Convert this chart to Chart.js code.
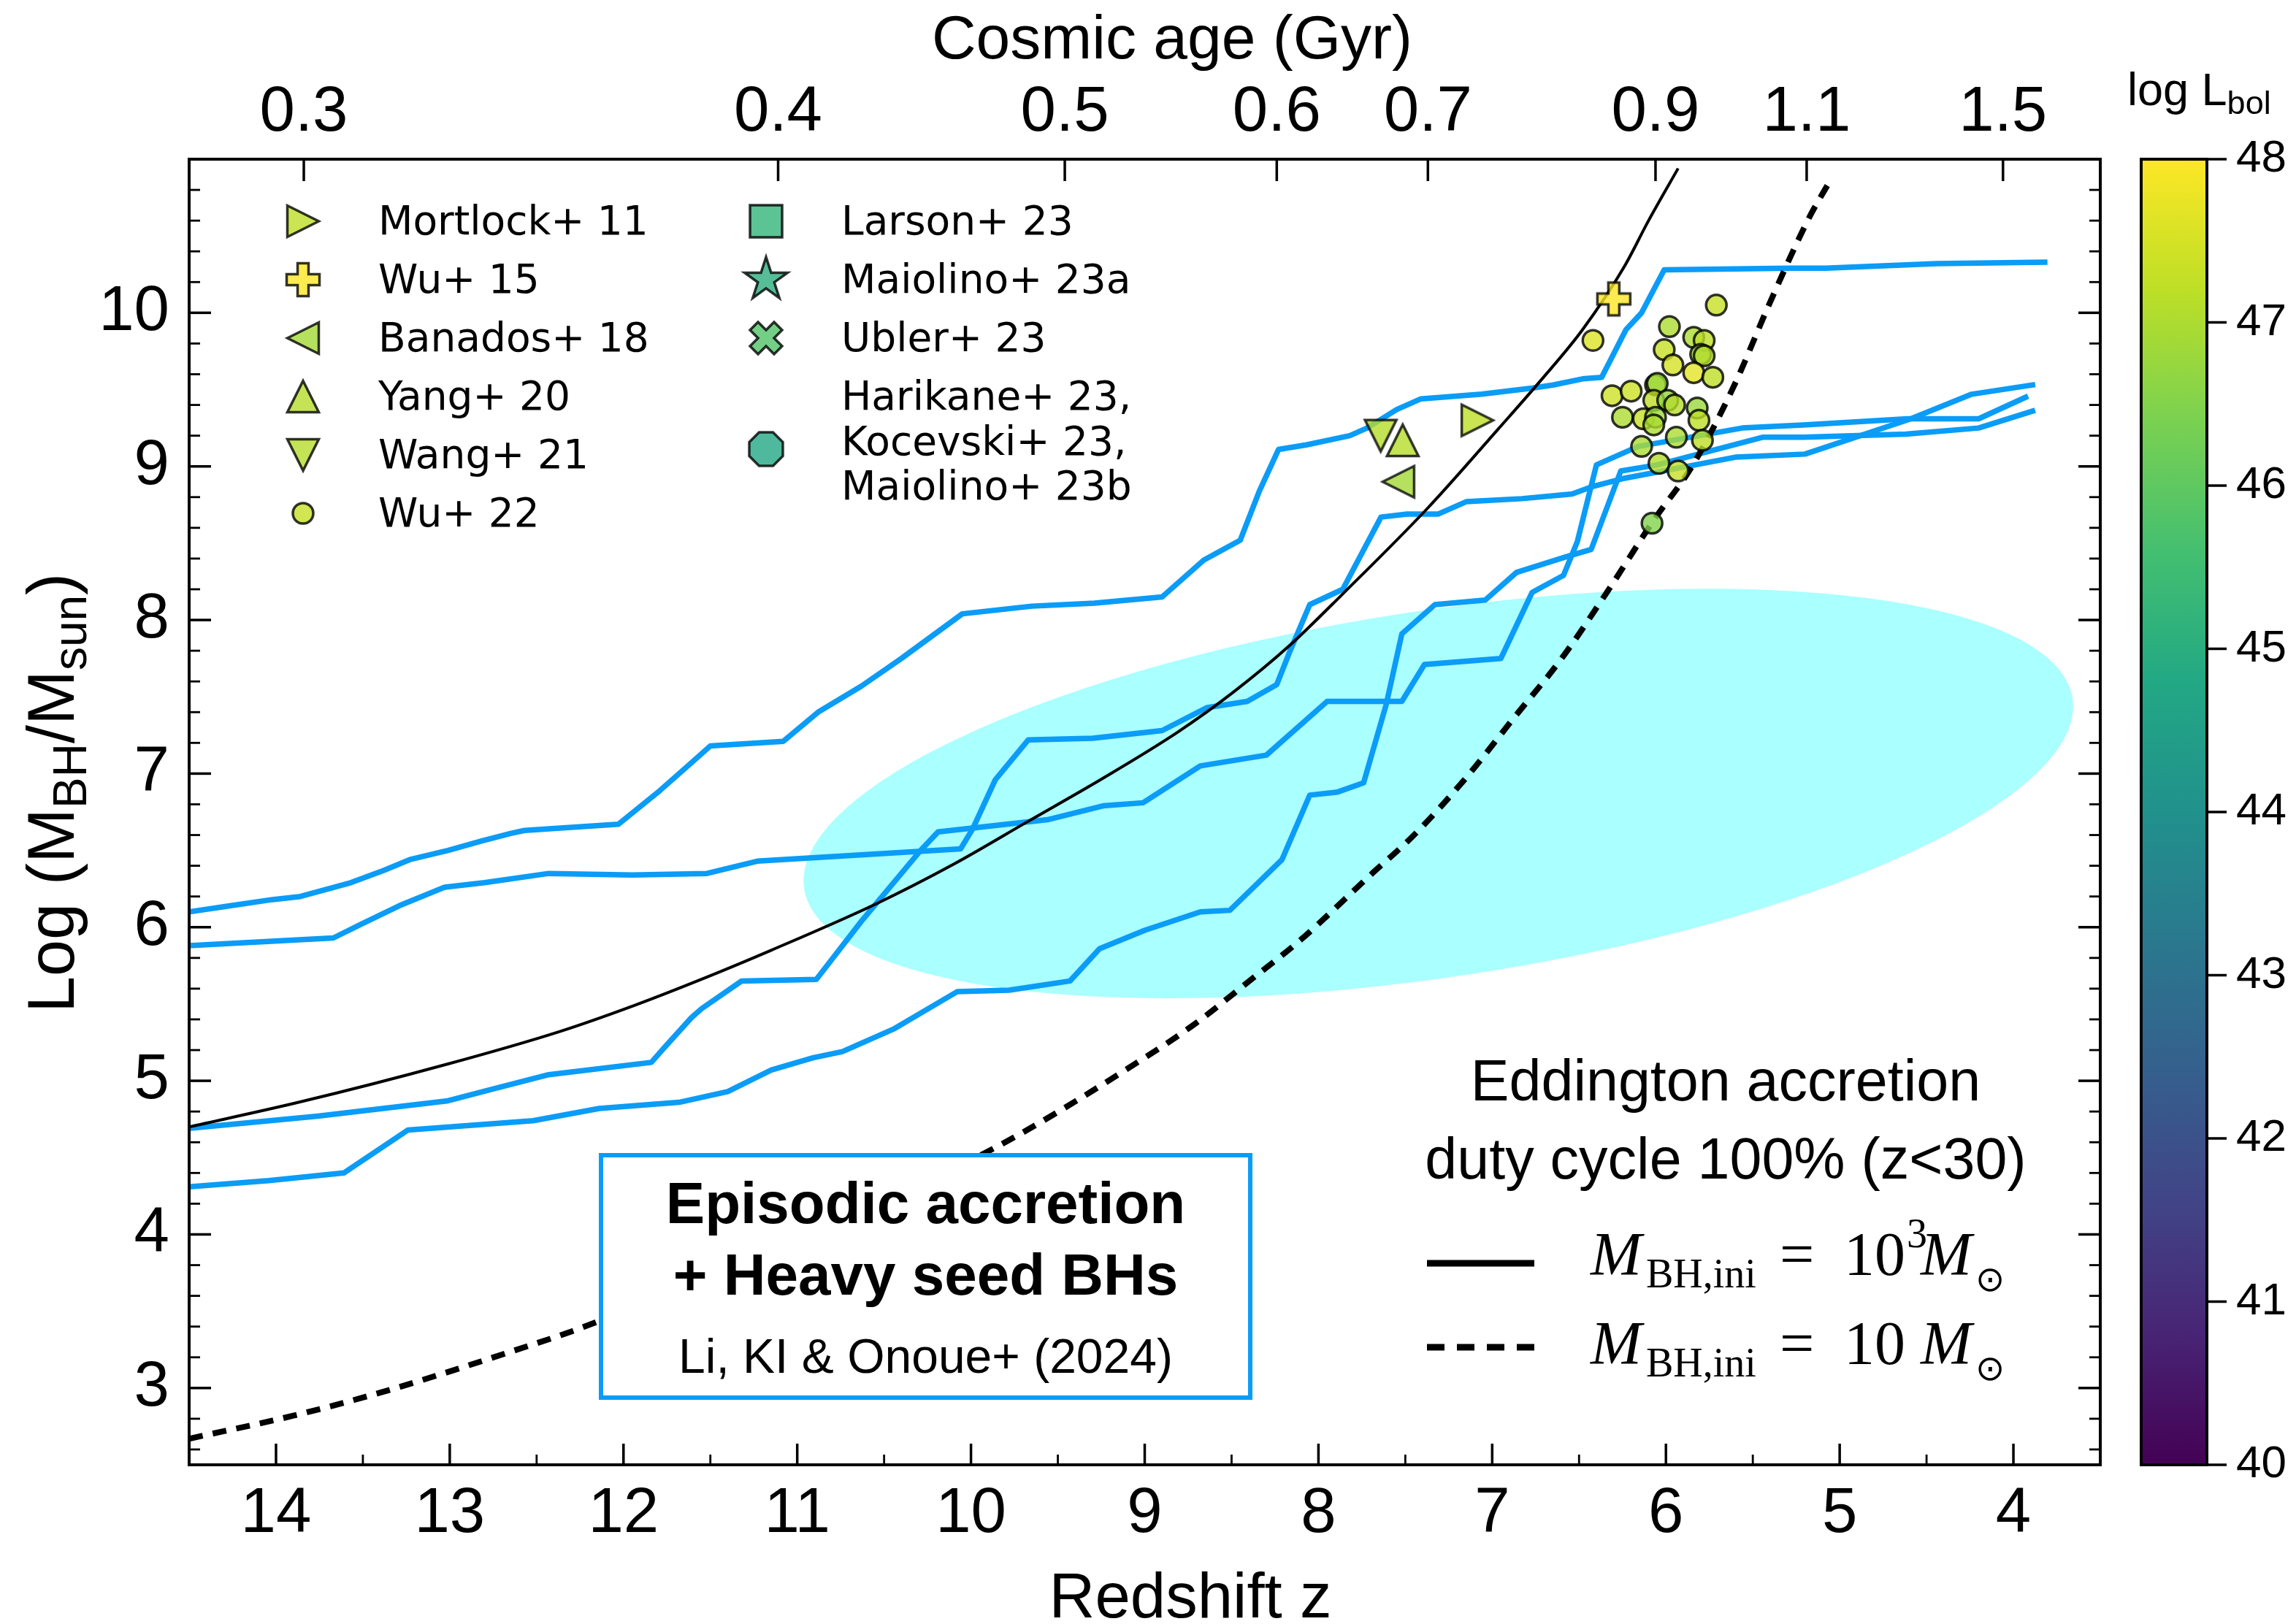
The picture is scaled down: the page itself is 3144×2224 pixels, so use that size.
<!DOCTYPE html>
<html>
<head>
<meta charset="utf-8">
<script src="https://cdn.jsdelivr.net/npm/chart.js@4.4.1/dist/chart.umd.min.js"></script>
<style>
  html, body { margin: 0; padding: 0; background: #ffffff; }
  canvas { display: block; }
</style>
</head>
<body>
<canvas id="bhChart" width="3144" height="2224"></canvas>
<script>
// ---------------- axis ticks ----------------
const zTickValues = [14, 13, 12, 11, 10, 9, 8, 7, 6, 5, 4];
const massTickValues = [3, 4, 5, 6, 7, 8, 9, 10];
const ageTickRedshifts = [13.84, 11.11, 9.46, 8.24, 7.37, 6.06, 5.19, 4.06];
const ageTickLabels = ['0.3', '0.4', '0.5', '0.6', '0.7', '0.9', '1.1', '1.5'];
const lbolTickValues = [40, 41, 42, 43, 44, 45, 46, 47, 48];

// ---------------- episodic-accretion growth tracks [z, log M] ----------------
const trackA = [[14.50,6.10],[14.26,6.14],[14.02,6.18],[13.86,6.20],[13.57,6.29],[13.38,6.37],[13.23,6.44],[13.01,6.50],[12.82,6.56],[12.65,6.61],[12.57,6.63],[12.03,6.67],[11.79,6.89],[11.61,7.07],[11.50,7.18],[11.08,7.21],[10.88,7.40],[10.63,7.57],[10.40,7.75],[10.05,8.04],[9.65,8.09],[9.29,8.11],[8.90,8.15],[8.66,8.39],[8.45,8.52],[8.34,8.84],[8.23,9.11],[8.07,9.14],[7.82,9.20],[7.72,9.25],[7.55,9.37],[7.41,9.44],[7.06,9.47],[6.77,9.51],[6.65,9.53],[6.48,9.57],[6.37,9.58],[6.23,9.89],[6.14,10.00],[6.01,10.28],[5.28,10.29],[5.08,10.29],[4.44,10.32],[3.82,10.33]];
const trackB = [[14.50,5.88],[13.67,5.93],[13.51,6.02],[13.29,6.14],[13.03,6.26],[12.80,6.29],[12.43,6.35],[11.95,6.34],[11.52,6.35],[11.23,6.43],[10.06,6.51],[9.99,6.64],[9.86,6.96],[9.67,7.22],[9.30,7.23],[8.90,7.28],[8.64,7.43],[8.41,7.47],[8.24,7.58],[8.17,7.78],[8.05,8.10],[7.86,8.20],[7.64,8.67],[7.49,8.69],[7.31,8.69],[7.15,8.77],[6.83,8.79],[6.54,8.82],[6.42,8.87],[6.25,8.92],[5.60,9.06],[5.20,9.08],[4.59,9.31],[4.24,9.47],[3.89,9.53]];
const trackC = [[14.50,4.69],[13.76,4.77],[13.01,4.87],[12.74,4.95],[12.43,5.04],[11.84,5.12],[11.77,5.21],[11.61,5.41],[11.55,5.47],[11.32,5.65],[10.89,5.66],[10.63,6.04],[10.29,6.50],[10.19,6.62],[9.56,6.70],[9.24,6.79],[9.01,6.81],[8.68,7.05],[8.30,7.12],[7.95,7.47],[7.52,7.47],[7.39,7.71],[6.95,7.75],[6.77,8.18],[6.59,8.29],[6.51,8.51],[6.40,9.01],[6.16,9.13],[5.56,9.25],[5.21,9.27],[4.61,9.31],[4.20,9.31],[3.93,9.45]];
const trackD = [[14.50,4.31],[14.04,4.35],[13.61,4.40],[13.24,4.68],[12.52,4.74],[12.14,4.82],[11.68,4.86],[11.40,4.93],[11.15,5.07],[10.91,5.15],[10.74,5.19],[10.44,5.34],[10.08,5.58],[9.78,5.59],[9.43,5.65],[9.26,5.86],[9.00,5.98],[8.68,6.10],[8.51,6.11],[8.21,6.44],[8.05,6.86],[7.89,6.88],[7.74,6.94],[7.61,7.45],[7.52,7.91],[7.33,8.10],[7.04,8.13],[6.86,8.31],[6.58,8.41],[6.43,8.46],[6.26,8.97],[6.05,9.01],[5.44,9.19],[5.21,9.19],[4.62,9.21],[4.20,9.25],[3.89,9.36]];

// ---------------- Eddington-limited growth, 100% duty cycle [z, log M] ----------------
const eddSeed1e3 = [[14.50,4.70],[13.87,4.86],[13.01,5.11],[12.37,5.32],[11.94,5.49],[11.51,5.68],[11.15,5.85],[10.55,6.15],[10.10,6.41],[9.67,6.69],[9.24,6.97],[8.81,7.27],[8.49,7.53],[8.17,7.83],[7.86,8.17],[7.37,8.73],[6.96,9.25],[6.72,9.56],[6.48,9.89],[6.24,10.30],[6.10,10.60],[5.93,10.94]];
const eddSeed10 = [[14.50,2.67],[13.90,2.82],[13.40,2.97],[12.64,3.24],[12.20,3.41],[9.92,4.53],[9.00,5.15],[8.70,5.38],[8.42,5.63],[8.10,5.92],[7.71,6.33],[7.45,6.60],[7.16,6.96],[6.87,7.37],[6.60,7.75],[6.34,8.18],[6.07,8.65],[5.85,9.00],[5.61,9.52],[5.40,10.07],[5.18,10.61],[5.05,10.87]];

// ---------------- shaded region: centre and the tips of its two semi-axes [z, log M] ----------------
const regionCentre = [7.31, 6.87];
const regionMajorTip = [3.66, 7.49];
const regionMinorTip = [7.15, 5.69];

// ---------------- observed quasars / AGN [z, log M, log Lbol] ----------------
const mortlock11 = [[7.085, 9.30, 47.2]];
const wu15 = [[6.30, 10.09, 48.6]];
const banados18 = [[7.54, 8.90, 46.9]];
const yang20 = [[7.515, 9.17, 47.1]];
const wang21 = [[7.642, 9.20, 47.1]];
const wu22 = [[5.71,10.05,47.3],[6.42,9.82,47.6],[5.98,9.91,47.0],[5.84,9.84,47.0],[5.78,9.82,47.2],[6.01,9.76,47.3],[5.80,9.73,46.8],[5.78,9.72,47.1],[5.96,9.66,47.5],[5.84,9.61,47.7],[5.73,9.58,47.2],[6.31,9.46,47.4],[6.20,9.49,47.4],[6.06,9.53,47.2],[6.05,9.54,46.8],[6.07,9.43,47.2],[5.99,9.43,46.7],[5.95,9.40,47.1],[5.82,9.38,46.8],[6.25,9.32,47.0],[6.13,9.31,47.3],[6.06,9.32,46.8],[6.07,9.27,47.0],[5.81,9.30,47.2],[5.94,9.19,47.0],[6.14,9.13,47.0],[5.79,9.17,47.2],[6.04,9.02,47.1],[5.93,8.97,47.3],[6.08,8.63,46.5]];
const larson23 = [];
const maiolino23a = [];
const ubler23 = [];
const harikaneEtAl23 = [];
// representative log Lbol used for each legend swatch
const legendLbol = [47.2, 48.6, 46.9, 47.1, 47.1, 47.3, 45.2, 45.0, 45.8, 44.8];

// ---------------- colours ----------------
const TRACK_BLUE = '#0a9cf7';
const REGION_CYAN = '#aaffff';
const EDGE = 'rgba(0,0,0,0.8)';
const VIRIDIS = [[68,1,84],[72,36,117],[65,68,135],[53,95,141],[42,120,142],[33,145,140],[34,168,132],[68,191,112],[122,209,81],[189,223,38],[253,231,37]];
const L_MIN = 40, L_MAX = 48;

function viridisRGB(t) {
  t = Math.max(0, Math.min(1, t));
  const p = t * 10, i = Math.min(9, Math.floor(p)), f = p - i;
  const a = VIRIDIS[i], b = VIRIDIS[i + 1];
  return a.map((v, k) => Math.round(v + (b[k] - v) * f));
}
function lbolColor(L, alpha = 0.8) {
  const [r, g, b] = viridisRGB((L - L_MIN) / (L_MAX - L_MIN));
  return `rgba(${r},${g},${b},${alpha})`;
}

// filled marker glyphs with a dark edge
function markerCanvas(shape, fill) {
  const S = 76;
  const c = document.createElement('canvas');
  c.width = c.height = S;
  const g = c.getContext('2d');
  g.translate(S / 2, S / 2);
  g.beginPath();
  const h = 21.5;
  const poly = pts => { g.moveTo(pts[0][0], pts[0][1]); for (let i = 1; i < pts.length; i++) g.lineTo(pts[i][0], pts[i][1]); };
  if (shape === 'triangle-up') poly([[0,-h],[h,h],[-h,h]]);
  else if (shape === 'triangle-down') poly([[0,h],[-h,-h],[h,-h]]);
  else if (shape === 'triangle-left') poly([[-h,0],[h,-h],[h,h]]);
  else if (shape === 'triangle-right') poly([[h,0],[-h,h],[-h,-h]]);
  else if (shape === 'plus' || shape === 'x') {
    const a = shape === 'plus' ? 22.5 : 23.3, w = a / 3;
    let pts = [[-w,-a],[w,-a],[w,-w],[a,-w],[a,w],[w,w],[w,a],[-w,a],[-w,w],[-a,w],[-a,-w],[-w,-w]];
    if (shape === 'x') {
      const k = Math.SQRT1_2;
      pts = pts.map(([x, y]) => [k * (x - y), k * (x + y)]);
    }
    poly(pts);
  } else if (shape === 'square') {
    g.rect(-22, -22, 44, 44);
  } else if (shape === 'star') {
    const R = 31, r = R * 0.381966, pts = [];
    for (let i = 0; i < 10; i++) {
      const ang = -Math.PI / 2 + i * Math.PI / 5, rr = i % 2 ? r : R;
      pts.push([rr * Math.cos(ang), rr * Math.sin(ang)]);
    }
    poly(pts);
  } else if (shape === 'octagon') {
    const r = 24.9, pts = [];
    for (let i = 0; i < 8; i++) {
      const ang = Math.PI / 8 + i * Math.PI / 4;
      pts.push([r * Math.cos(ang), r * Math.sin(ang)]);
    }
    poly(pts);
  } else {
    g.arc(0, 0, 14, 0, Math.PI * 2);
  }
  g.closePath();
  g.fillStyle = fill;
  g.fill();
  g.lineWidth = 3.5;
  g.lineJoin = 'miter';
  g.strokeStyle = EDGE;
  g.stroke();
  return c;
}

const sources = [
  { label: 'Mortlock+ 11', shape: 'triangle-right', data: mortlock11 },
  { label: 'Wu+ 15', shape: 'plus', data: wu15 },
  { label: 'Banados+ 18', shape: 'triangle-left', data: banados18 },
  { label: 'Yang+ 20', shape: 'triangle-up', data: yang20 },
  { label: 'Wang+ 21', shape: 'triangle-down', data: wang21 },
  { label: 'Wu+ 22', shape: 'circle', data: wu22 },
  { label: 'Larson+ 23', shape: 'square', data: larson23 },
  { label: 'Maiolino+ 23a', shape: 'star', data: maiolino23a },
  { label: 'Ubler+ 23', shape: 'x', data: ubler23 },
  { label: 'Harikane+ 23,\nKocevski+ 23,\nMaiolino+ 23b', shape: 'octagon', data: harikaneEtAl23 },
];
sources.forEach((s, i) => { s.swatch = markerCanvas(s.shape, lbolColor(legendLbol[i])); });

const toXY = arr => arr.map(([z, m]) => ({ x: z, y: m }));

const datasets = [];
// observed objects on top
sources.forEach(s => {
  if (!s.data.length) return;
  if (s.shape === 'circle') {
    datasets.push({
      label: s.label, data: toXY(s.data), order: 1,
      pointStyle: 'circle', pointRadius: 14,
      pointBackgroundColor: s.data.map(d => lbolColor(d[2])),
      pointBorderColor: EDGE, pointBorderWidth: 3.5, showLine: false
    });
  } else {
    datasets.push({
      label: s.label, data: toXY(s.data), order: 1,
      pointStyle: s.data.map(d => markerCanvas(s.shape, lbolColor(d[2]))),
      pointRadius: 20, showLine: false
    });
  }
});
// Eddington curves
datasets.push({
  label: 'Mini 1e3', data: toXY(eddSeed1e3), order: 2, showLine: true,
  borderColor: '#000', borderWidth: 4, pointRadius: 0, cubicInterpolationMode: 'monotone'
});
datasets.push({
  label: 'Mini 10', data: toXY(eddSeed10), order: 2, showLine: true,
  borderColor: '#000', borderWidth: 8, borderDash: [19, 14], pointRadius: 0, cubicInterpolationMode: 'monotone'
});
// episodic tracks
[trackA, trackB, trackC, trackD].forEach((t, i) => datasets.push({
  label: 'track ' + (i + 1), data: toXY(t), order: 3, showLine: true,
  borderColor: TRACK_BLUE, borderWidth: 7.5, pointRadius: 0,
  borderJoinStyle: 'round', borderCapStyle: 'square'
}));

const SANS = "'Liberation Sans', Arial, sans-serif";
const SERIF = "'Liberation Serif', 'Times New Roman', serif";
const DEJAVU = "'DejaVu Sans', sans-serif";

function drawRuns(ctx, x0, baseline, runs) {
  runs.forEach(r => {
    ctx.font = r.font;
    ctx.fillText(r.text, x0 + r.dx, baseline + (r.dy || 0));
  });
}

const decorations = {
  id: 'decorations',
  beforeDatasetsDraw(chart) {
    const { ctx, chartArea: ca, scales: { x, y } } = chart;
    const cx = x.getPixelForValue(regionCentre[0]), cy = y.getPixelForValue(regionCentre[1]);
    const ux = x.getPixelForValue(regionMajorTip[0]) - cx, uy = y.getPixelForValue(regionMajorTip[1]) - cy;
    const vx = x.getPixelForValue(regionMinorTip[0]) - cx, vy = y.getPixelForValue(regionMinorTip[1]) - cy;
    ctx.save();
    ctx.beginPath();
    ctx.rect(ca.left, ca.top, ca.width, ca.height);
    ctx.clip();
    ctx.save();
    ctx.transform(ux, uy, vx, vy, cx, cy);
    ctx.beginPath();
    ctx.arc(0, 0, 1, 0, Math.PI * 2);
    ctx.restore();
    ctx.fillStyle = REGION_CYAN;
    ctx.fill();
    ctx.restore();
  },
  afterDatasetsDraw(chart) {
    const { ctx, chartArea: ca } = chart;
    ctx.save();
    ctx.fillStyle = '#000';
    ctx.textBaseline = 'alphabetic';

    // model label box
    const bx = ca.left + 564, by = ca.top + 1364, bw = 889, bh = 332;
    ctx.fillStyle = '#fff';
    ctx.fillRect(bx, by, bw, bh);
    ctx.lineWidth = 6;
    ctx.strokeStyle = TRACK_BLUE;
    ctx.strokeRect(bx, by, bw, bh);
    ctx.fillStyle = '#000';
    ctx.textAlign = 'center';
    const bc = bx + bw / 2;
    ctx.font = `bold 80px ${SANS}`;
    ctx.fillText('Episodic accretion', bc, by + 93);
    ctx.fillText('+ Heavy seed BHs', bc, by + 191);
    ctx.font = `66px ${SANS}`;
    ctx.fillText('Li, KI & Onoue+ (2024)', bc, by + 298);

    // Eddington legend
    const ex = ca.left + 2104;
    ctx.font = `79px ${SANS}`;
    ctx.fillText('Eddington accretion', ex, ca.top + 1289);
    ctx.fillText('duty cycle 100% (z<30)', ex, ca.top + 1396);
    ctx.textAlign = 'left';
    const hx0 = ca.left + 1695, hx1 = ca.left + 1842;
    ctx.strokeStyle = '#000';
    ctx.lineWidth = 9;
    ctx.beginPath(); ctx.moveTo(hx0, ca.top + 1512); ctx.lineTo(hx1, ca.top + 1512); ctx.stroke();
    ctx.setLineDash([24, 17]);
    ctx.beginPath(); ctx.moveTo(hx0, ca.top + 1627); ctx.lineTo(hx1 + 10, ca.top + 1627); ctx.stroke();
    ctx.setLineDash([]);
    const mx = ca.left + 1919;
    const it = `italic 84px ${SERIF}`, rm = `84px ${SERIF}`, sub = `56px ${SERIF}`, odot = `48px ${DEJAVU}`;
    drawRuns(ctx, mx, ca.top + 1528, [
      { text: 'M', font: it, dx: 0 }, { text: 'BH,ini', font: sub, dx: 76, dy: 17 },
      { text: '=', font: rm, dx: 259 }, { text: '10', font: rm, dx: 347 },
      { text: '3', font: sub, dx: 433, dy: -38 }, { text: 'M', font: it, dx: 452 },
      { text: '\u2299', font: odot, dx: 527, dy: 22 }
    ]);
    drawRuns(ctx, mx, ca.top + 1650, [
      { text: 'M', font: it, dx: 0 }, { text: 'BH,ini', font: sub, dx: 76, dy: 17 },
      { text: '=', font: rm, dx: 259 }, { text: '10', font: rm, dx: 347 },
      { text: 'M', font: it, dx: 452 }, { text: '\u2299', font: odot, dx: 527, dy: 22 }
    ]);

    // source legend, two columns
    ctx.font = `55px ${DEJAVU}`;
    const colMarker = [ca.left + 156, ca.left + 790];
    const colText = [ca.left + 259, ca.left + 893];
    sources.forEach((s, i) => {
      const col = i < 6 ? 0 : 1, row = i < 6 ? i : i - 6;
      const base = ca.top + 103 + row * 80;
      const lines = s.label.split('\n');
      const my = lines.length > 1 ? ca.top + 397 : base - 18;
      const sw = s.swatch;
      ctx.drawImage(sw, colMarker[col] - sw.width / 2, my - sw.height / 2);
      lines.forEach((ln, k) => ctx.fillText(ln, colText[col], base + k * 61.5));
    });
    ctx.restore();
  },
  afterDraw(chart) {
    const { ctx, chartArea: ca, scales: { x, y } } = chart;
    ctx.save();
    ctx.strokeStyle = '#000';
    ctx.lineCap = 'butt';
    const vtick = (px, y0, len, w) => { ctx.lineWidth = w; ctx.beginPath(); ctx.moveTo(px, y0); ctx.lineTo(px, y0 + len); ctx.stroke(); };
    const htick = (py, x0, len, w) => { ctx.lineWidth = w; ctx.beginPath(); ctx.moveTo(x0, py); ctx.lineTo(x0 + len, py); ctx.stroke(); };
    // redshift ticks (major + half-unit minor), pointing inward
    zTickValues.forEach(v => vtick(x.getPixelForValue(v), ca.bottom, -29, 3.5));
    for (let v = 4.5; v < 14.5; v += 1) vtick(x.getPixelForValue(v), ca.bottom, -14, 2.8);
    // cosmic age ticks on top
    ageTickRedshifts.forEach(v => vtick(x.getPixelForValue(v), ca.top, 30, 3.5));
    // mass ticks on both sides
    for (let k = 13; k <= 55; k++) {
      const v = k / 5;
      const py = y.getPixelForValue(v);
      const major = k % 5 === 0;
      htick(py, ca.left, major ? 30 : 15, major ? 3.5 : 2.8);
      htick(py, ca.right, major ? -30 : -15, major ? 3.5 : 2.8);
    }
    // frame
    ctx.lineWidth = 4;
    ctx.strokeRect(ca.left, ca.top, ca.width, ca.height);

    // axis titles
    ctx.fillStyle = '#000';
    ctx.textBaseline = 'alphabetic';
    ctx.textAlign = 'center';
    ctx.font = `87px ${SANS}`;
    ctx.fillText('Redshift z', ca.left + 1371, ca.bottom + 209);
    ctx.font = `84px ${SANS}`;
    ctx.fillText('Cosmic age (Gyr)', ca.left + 1346, ca.top - 138);

    // vertical title with subscripts
    ctx.save();
    ctx.translate(ca.left - 158, ca.top + 868);
    ctx.rotate(-Math.PI / 2);
    ctx.textAlign = 'left';
    const big = `90px ${SANS}`, small = `64px ${SANS}`;
    const parts = [['Log (M', big, 0], ['BH', small, 17], ['/M', big, 0], ['sun', small, 17], [')', big, 0]];
    let total = 0;
    parts.forEach(p => { ctx.font = p[1]; total += ctx.measureText(p[0]).width; });
    let cx = -total / 2;
    parts.forEach(p => { ctx.font = p[1]; ctx.fillText(p[0], cx, p[2]); cx += ctx.measureText(p[0]).width; });
    ctx.restore();

    // colour bar for log Lbol
    const cbL = ca.right + 56, cbR = ca.right + 146, cbT = ca.top, cbB = ca.bottom;
    const grad = ctx.createLinearGradient(0, cbB, 0, cbT);
    VIRIDIS.forEach((c, i) => grad.addColorStop(i / (VIRIDIS.length - 1), `rgb(${c[0]},${c[1]},${c[2]})`));
    ctx.fillStyle = grad;
    ctx.fillRect(cbL, cbT, cbR - cbL, cbB - cbT);
    ctx.lineWidth = 4;
    ctx.strokeStyle = '#000';
    ctx.strokeRect(cbL, cbT, cbR - cbL, cbB - cbT);
    ctx.fillStyle = '#000';
    ctx.textAlign = 'left';
    ctx.textBaseline = 'middle';
    ctx.font = `62px ${SANS}`;
    lbolTickValues.forEach(v => {
      const py = cbB - (v - L_MIN) / (L_MAX - L_MIN) * (cbB - cbT);
      htick(py, cbR, 27, 3.5);
      ctx.fillText(String(v), cbR + 40, py);
    });
    ctx.textBaseline = 'alphabetic';
    ctx.font = `63px ${SANS}`;
    const lx = ca.right + 37;
    ctx.fillText('log L', lx, ca.top - 74);
    const w1 = ctx.measureText('log L').width;
    ctx.font = `45px ${SANS}`;
    ctx.fillText('bol', lx + w1, ca.top - 62);
    ctx.restore();
  }
};

const tickFont = { family: SANS, size: 87 };
new Chart(document.getElementById('bhChart'), {
  type: 'scatter',
  data: { datasets },
  options: {
    responsive: false,
    animation: false,
    devicePixelRatio: 1,
    layout: { padding: { left: 0, right: 268, top: 0, bottom: 0 } },
    plugins: { legend: { display: false }, tooltip: { enabled: false } },
    scales: {
      x: {
        type: 'linear', position: 'bottom', reverse: true, min: 3.5, max: 14.5,
        afterBuildTicks: s => { s.ticks = zTickValues.map(v => ({ value: v })); },
        afterFit: s => { s.height = 218; },
        grid: { display: false, drawTicks: false }, border: { display: false },
        ticks: { autoSkip: false, maxRotation: 0, padding: 16, color: '#000', font: tickFont, callback: v => String(v) }
      },
      xTop: {
        type: 'linear', position: 'top', reverse: true, min: 3.5, max: 14.5,
        afterBuildTicks: s => { s.ticks = ageTickRedshifts.map(v => ({ value: v })); },
        afterFit: s => { s.height = 218; },
        grid: { display: false, drawTicks: false }, border: { display: false },
        ticks: { autoSkip: false, maxRotation: 0, padding: 11, color: '#000', font: tickFont, callback: (v, i) => ageTickLabels[i] }
      },
      y: {
        type: 'linear', position: 'left', min: 2.5, max: 11,
        afterBuildTicks: s => { s.ticks = massTickValues.map(v => ({ value: v })); },
        afterFit: s => { s.width = 259; },
        grid: { display: false, drawTicks: false }, border: { display: false },
        ticks: { autoSkip: false, padding: 27, color: '#000', font: tickFont, callback: v => String(v) }
      }
    }
  },
  plugins: [decorations]
});
</script>
</body>
</html>
